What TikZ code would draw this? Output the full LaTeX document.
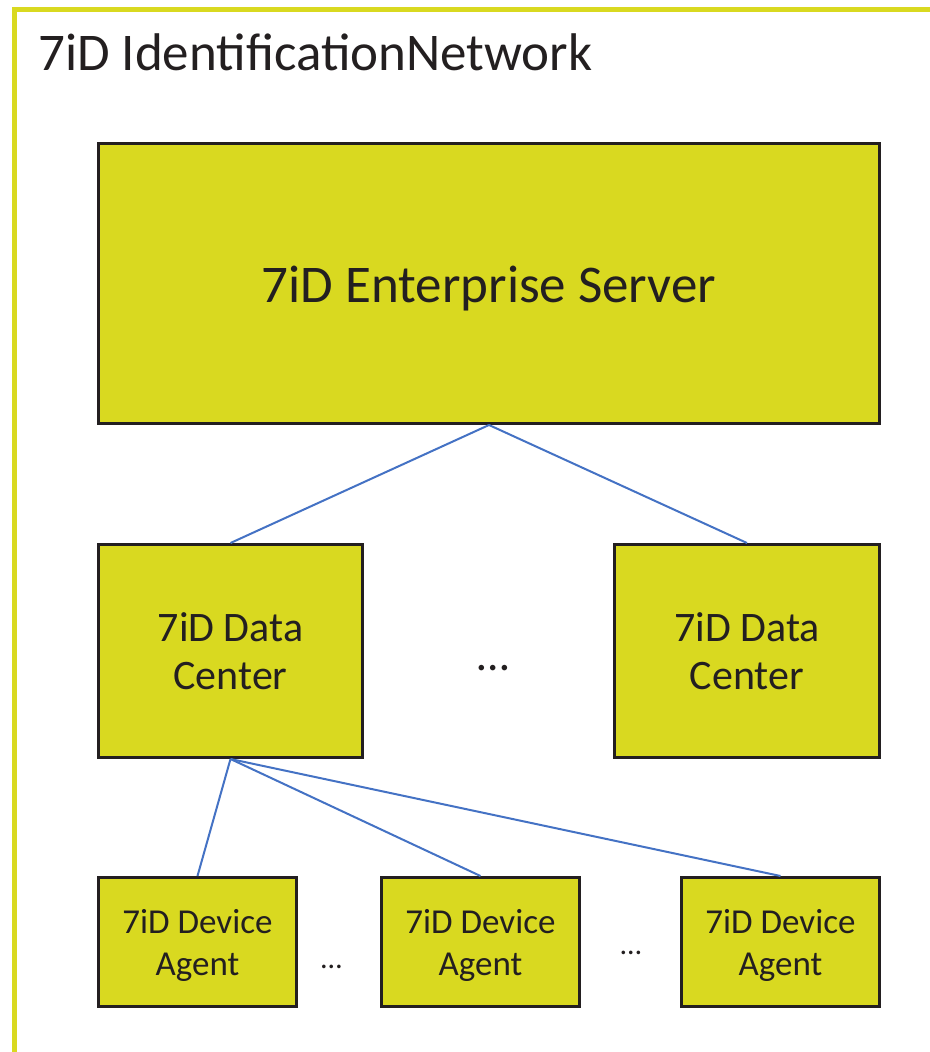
\documentclass[tikz,border=0pt]{standalone}
\usepackage{fontspec}
\setmainfont{Carlito}
\usepackage{tikz}

\definecolor{boxfill}{RGB}{217,217,32}
\definecolor{boxline}{RGB}{35,31,32}
\definecolor{linkblue}{RGB}{68,114,196}

% taller first line, so the text sits lower in its box
\newcommand{\dropby}[1]{\raisebox{#1}{\vphantom{7iD}}}

\begin{document}
\begin{tikzpicture}[x=1pt,y=-1pt,
  box node/.style={rectangle,fill=boxfill,draw=boxline,line width=3pt,
  text=boxline,align=center,inner sep=0pt},
  link/.style={draw=linkblue,line width=2pt},
  dots node/.style={anchor=base,text=boxline,inner sep=0pt}]

  \useasboundingbox (0,0) rectangle (929,1052);

  % outer frame
  \draw[boxfill,line width=5pt] (14.5,1100) |- (1000,9.5);
  \node[anchor=base west,inner sep=0pt,text=boxline,font=\fontsize{53}{58}\selectfont] (title) at (38,70) {7iD IdentificationNetwork};

  \node[box node,minimum width=781,minimum height=280,font=\fontsize{53}{58}\selectfont] (ES) at (489,283.5) {\dropby{10pt}7iD Enterprise Server};

  \node[box node,minimum width=264,minimum height=213,font=\fontsize{42}{48}\selectfont] (DC1) at (230.5,651) {7iD Data\\Center};
  \node[box node,minimum width=265,minimum height=213,font=\fontsize{42}{48}\selectfont] (DC2) at (747,651) {7iD Data\\Center};
  \node[dots node,font=\fontsize{46}{48}\selectfont] (D0) at (493,670) {…};

  \node[box node,minimum width=198,minimum height=129,font=\fontsize{35}{42}\selectfont] (DA1) at (197.5,942) {\dropby{7pt}7iD Device\\Agent};
  \node[box node,minimum width=198,minimum height=129,font=\fontsize{35}{42}\selectfont] (DA2) at (480.5,942) {\dropby{7pt}7iD Device\\Agent};
  \node[box node,minimum width=198,minimum height=129,font=\fontsize{35}{42}\selectfont] (DA3) at (780.5,942) {\dropby{7pt}7iD Device\\Agent};
  \node[dots node,font=\fontsize{30}{32}\selectfont] (D1) at (331.5,968) {…};
  \node[dots node,font=\fontsize{30}{32}\selectfont] (D2) at (631,954) {…};

%links server
  \draw[link] (ES.south) -- (DC1.north);
  \draw[link] (ES.south) -- (DC2.north);

%links data center
  \draw[link] (DC1.south) -- (DA1.north);
  \draw[link] (DC1.south) -- (DA2.north);
  \draw[link] (DC1.south) -- (DA3.north);

\end{tikzpicture}
\end{document}
